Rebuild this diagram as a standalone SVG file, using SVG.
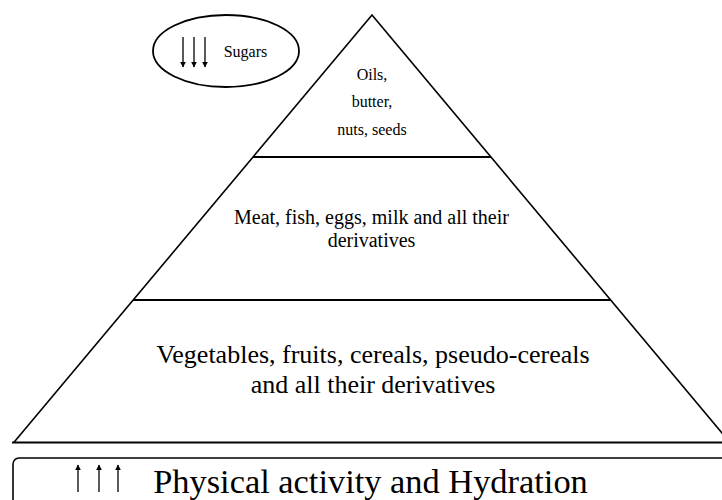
<svg xmlns="http://www.w3.org/2000/svg" width="722" height="500" viewBox="0 0 722 500">
<style>
  text { font-family: "Liberation Serif", "Times New Roman", serif; fill: #000; text-anchor: middle; }
  .edge { stroke: #000; stroke-width: 1.6; fill: none; }
  .bar { stroke: #000; stroke-width: 2; fill: none; }
  .arr { stroke: #000; stroke-width: 1.3; fill: none; }
</style>
<defs>
  <marker id="head" viewBox="0 0 10 10" refX="9" refY="5" markerWidth="6" markerHeight="7" markerUnits="userSpaceOnUse" orient="auto">
    <path d="M0,0 L10,5 L0,10 Z" fill="#000"/>
  </marker>
</defs>
<rect width="722" height="500" fill="#fff"/>

<g id="pyramid">
  <path class="edge" d="M13.8,442.5 L372,15 L730,442.5"/>
</g>

<g id="connectors">
  <line class="bar" x1="253" y1="157" x2="491" y2="157"/>
  <line class="bar" x1="133" y1="300" x2="611" y2="300"/>
  <line class="bar" x1="12" y1="442.5" x2="730" y2="442.5"/>
</g>

<g id="top-tier">
  <text x="372" y="80" font-size="16">Oils,</text>
  <text x="372" y="107" font-size="16">butter,</text>
  <text x="372" y="135" font-size="16">nuts, seeds</text>
</g>

<g id="middle-tier">
  <text x="371.5" y="224" font-size="20">Meat, fish, eggs, milk and all their</text>
  <text x="371.5" y="247" font-size="20">derivatives</text>
</g>

<g id="bottom-tier">
  <text x="373" y="363" font-size="26">Vegetables, fruits, cereals, pseudo-cereals</text>
  <text x="373" y="393" font-size="26">and all their derivatives</text>
</g>

<g id="sugars">
  <ellipse cx="226" cy="51" rx="73" ry="36" fill="none" stroke="#000" stroke-width="1.8"/>
  <line class="arr" x1="183" y1="37" x2="183" y2="67" marker-end="url(#head)"/>
  <line class="arr" x1="194" y1="37" x2="194" y2="67" marker-end="url(#head)"/>
  <line class="arr" x1="205" y1="37" x2="205" y2="67" marker-end="url(#head)"/>
  <text x="245.5" y="57" font-size="16">Sugars</text>
</g>

<g id="activity">
  <rect x="13" y="458" width="740" height="70" rx="6" ry="6" fill="none" stroke="#000" stroke-width="1.6"/>
  <line class="arr" x1="78" y1="492" x2="78" y2="465" marker-end="url(#head)"/>
  <line class="arr" x1="99" y1="492" x2="99" y2="465" marker-end="url(#head)"/>
  <line class="arr" x1="118" y1="492" x2="118" y2="465" marker-end="url(#head)"/>
  <text x="370.5" y="493" font-size="34.4">Physical activity and Hydration</text>
</g>
</svg>
